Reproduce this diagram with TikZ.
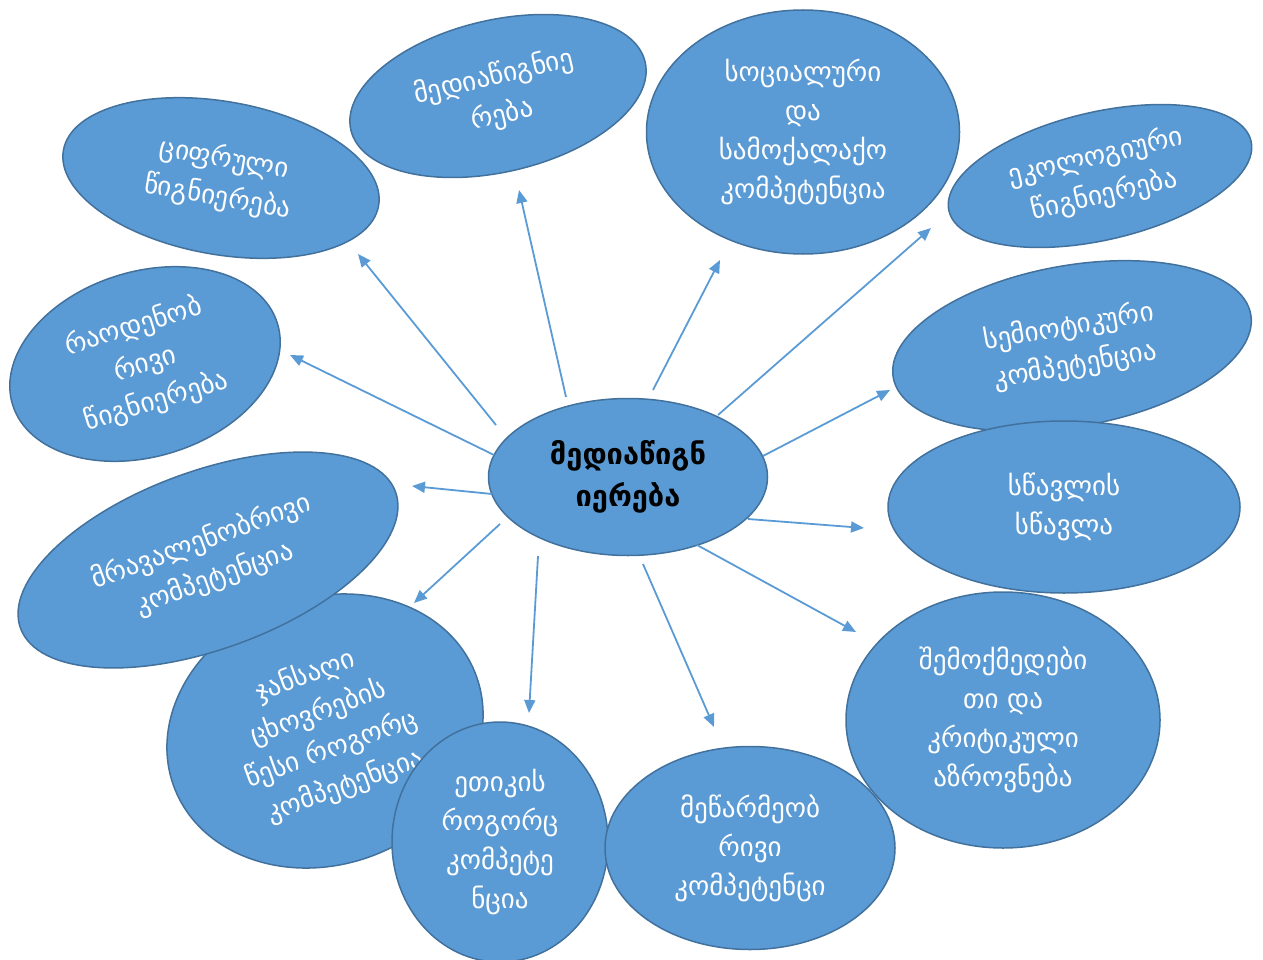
\documentclass[tikz,border=0pt]{standalone}
\usepackage{fontspec}
\setmainfont{DejaVu Sans}
\usetikzlibrary{shapes.geometric,arrows.meta}
\definecolor{ovalblue}{HTML}{5B9BD5}
\definecolor{ovaledge}{HTML}{41719C}
\tikzset{
	oval/.style={ellipse, draw=ovaledge, fill=ovalblue, line width=1.5pt,
		inner sep=0pt, align=center, text=white,
		font=\fontsize{27}{39}\selectfont},
	link/.style={draw=ovalblue, line width=1.8pt,
		-{Triangle[length=13pt,width=11pt]}}
}
\begin{document}
\begin{tikzpicture}[x=1pt,y=-1pt]
	\useasboundingbox (0,0) rectangle (1263,960);
	% outer ovals, back to front
	\node[oval, minimum width=320pt, minimum height=153pt, rotate=-10] (digital) at (221,178) {ციფრული\\წიგნიერება};
	\node[oval, minimum width=302pt, minimum height=152pt, rotate=13] (medialit) at (498,96) {მედიაწიგნიე\\რება};
	\node[oval, minimum width=313pt, minimum height=244pt] (social) at (803,132) {სოციალური\\და\\სამოქალაქო\\კომპეტენცია};
	\node[oval, minimum width=310pt, minimum height=128pt, rotate=13] (ecolog) at (1100,176) {ეკოლოგიური\\წიგნიერება};
	\node[oval, minimum width=363pt, minimum height=161pt, rotate=10] (semiot) at (1072,346) {სემიოტიკური\\კომპეტენცია};
	\node[oval, minimum width=352pt, minimum height=172pt] (learn) at (1064,507) {სწავლის\\სწავლა};
	\node[oval, minimum width=277pt, minimum height=185pt, rotate=17] (numer) at (145,364) {რაოდენობ\\რივი\\წიგნიერება};
	\node[oval, minimum width=322pt, minimum height=267pt, rotate=20] (health) at (325,731) {ჯანსაღი\\ცხოვრების\\წესი როგორც\\კომპეტენცია};
	\node[oval, minimum width=399pt, minimum height=178pt, rotate=20] (multiling) at (208,560) {მრავალენობრივი\\კომპეტენცია};
	\node[oval, minimum width=216pt, minimum height=240pt] (ethics) at (500,842) {ეთიკის\\როგორც\\კომპეტე\\ნცია};
	\node[oval, minimum width=290pt, minimum height=203pt] (entrep) at (750,848) {მეწარმეობ\\რივი\\კომპეტენცი};
	\node[oval, minimum width=314pt, minimum height=256pt] (creative) at (1003,720) {შემოქმედები\\თი და\\კრიტიკული\\აზროვნება};
	% centre
	\node[oval, minimum width=279pt, minimum height=157pt, text=black,
		font=\bfseries\fontsize{29}{42}\selectfont] (hub) at (628,477) {მედიაწიგნ\\იერება};
	% arrows out of the centre
	\foreach \n/\sx/\sy/\tx/\ty in {
		digital/496/425/358/254, medialit/566/397/519/190,
		social/653/390/720/260, ecolog/718/415/931/228,
		semiot/763/456/890/390, numer/494/455/290/355,
		multiling/492/494/412/486, learn/748/519/864/528,
		health/500/524/414/603, ethics/538/556/529/713,
		entrep/643/564/714/727, creative/697/545/856/632}
	{
		\coordinate (s-\n) at (\sx,\sy);
		\coordinate (t-\n) at (\tx,\ty);
		\draw[link] (s-\n) -- (t-\n);
	}
\end{tikzpicture}
\end{document}
